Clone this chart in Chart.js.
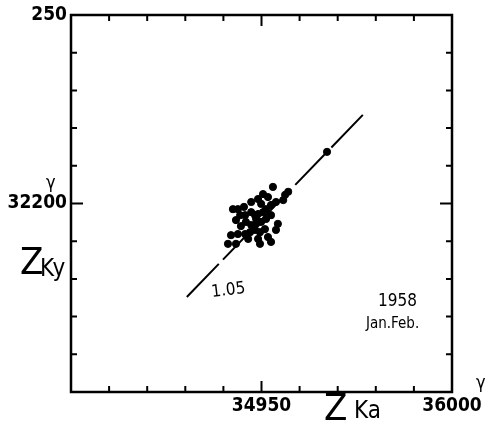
<!DOCTYPE html>
<html>
<head>
<meta charset="utf-8">
<script src="https://cdn.jsdelivr.net/npm/chart.js@4/dist/chart.umd.min.js"></script>
<style>
  html, body { margin: 0; padding: 0; background: #fff; }
  #wrap { width: 490px; height: 425px; }
</style>
</head>
<body>
<div id="wrap"><canvas id="scatterChart" width="490" height="425"></canvas></div>
<script>
// Z Ka (x) vs Z Ky (y), gamma, 1958 Jan.Feb.
const zKa = [34953.0, 34951.7, 34950.4, 34949.1, 34947.3, 34943.8, 34942.5, 34944.4, 34945.7, 34947.3,
             34949.1, 34951.2, 34952.5, 34953.8, 34956.2, 34957.0, 34945.9, 34947.3, 34948.6, 34949.9,
             34951.2, 34952.5, 34948.3, 34949.6, 34950.9, 34947.0, 34945.7, 34943.8, 34942.0, 34941.2,
             34943.3, 34946.5, 34949.1, 34949.6, 34952.5, 34951.7, 34953.8, 34954.3, 34948.3, 34949.9,
             34945.4, 34948.6, 34950.4, 34955.7, 34967.2, 34944.6, 34943.3];
const zKy = [32204.4, 32201.7, 32202.5, 32201.2, 32200.4, 32198.5, 32198.5, 32196.9, 32196.9, 32197.7,
             32197.2, 32198.5, 32199.6, 32200.4, 32202.3, 32203.1, 32195.1, 32194.3, 32194.6, 32195.1,
             32195.9, 32196.9, 32193.0, 32192.4, 32193.2, 32192.4, 32191.9, 32191.9, 32191.6, 32189.3,
             32189.3, 32190.6, 32190.6, 32189.3, 32189.8, 32191.1, 32193.0, 32194.6, 32196.9, 32199.9,
             32199.1, 32195.9, 32197.7, 32200.9, 32213.7, 32194.0, 32195.6];

// fitted line, slope 1.05
const lineX = [34930.4, 34976.6];
const lineY = [32175.2, 32223.5];

const xTicks = [34900, 34910, 34920, 34930, 34940, 34950, 34960, 34970, 34980, 34990, 35000];
const yTicks = [32150, 32160, 32170, 32180, 32190, 32200, 32210, 32220, 32230, 32240, 32250];
const xLabels = { 34950: '34950', 35000: '36000' };
const yLabels = { 32200: '32200', 32250: '250' };

const handFont = '"DejaVu Sans Condensed", "DejaVu Sans", sans-serif';

const framePlugin = {
  id: 'frame',
  afterDraw(chart) {
    const c = chart.ctx, a = chart.chartArea;
    const xs = chart.scales.x, ys = chart.scales.y;
    c.save();
    c.strokeStyle = '#000';
    c.lineWidth = 2.5;
    c.strokeRect(a.left, a.top, a.right - a.left, a.bottom - a.top);
    c.lineWidth = 2;
    c.beginPath();
    xTicks.forEach(v => {
      const p = xs.getPixelForValue(v);
      const len = v === 34950 ? 11 : 6;
      c.moveTo(p, a.bottom); c.lineTo(p, a.bottom - len);
      c.moveTo(p, a.top); c.lineTo(p, a.top + len);
    });
    yTicks.forEach(v => {
      const p = ys.getPixelForValue(v);
      const len = v === 32200 ? 12 : 6;
      c.moveTo(a.left, p); c.lineTo(a.left + len, p);
      c.moveTo(a.right, p); c.lineTo(a.right - len, p);
    });
    c.stroke();

    c.fillStyle = '#000';
    c.textBaseline = 'alphabetic';
    c.textAlign = 'left';
    c.font = '18px ' + handFont;
    c.fillText('\u03b3', 46, 188);
    c.fillText('\u03b3', 476, 388);
    c.font = '38px ' + handFont;
    c.fillText('Z', 20, 274);
    c.fillText('Z', 324, 420);
    c.font = '24px ' + handFont;
    c.fillText('Ky', 40, 276);
    c.fillText('Ka', 354, 418);
    c.font = '17px ' + handFont;
    c.fillText('1958', 378, 306);
    c.font = '15px ' + handFont;
    c.fillText('Jan.Feb.', 366, 328);
    c.save();
    c.translate(212, 297);
    c.rotate(-0.12);
    c.font = '17px ' + handFont;
    c.fillText('1.05', 0, 0);
    c.restore();
    c.restore();
  }
};

const ctx = document.getElementById('scatterChart').getContext('2d');
const scatterChart = new Chart(ctx, {
  type: 'scatter',
  data: {
    datasets: [{
      label: '1958 Jan.Feb.',
      data: zKa.map((x, i) => ({ x: x, y: zKy[i] })),
      backgroundColor: '#000',
      borderColor: '#000',
      pointRadius: 3.6,
      pointHoverRadius: 3.6
    }, {
      label: 'slope 1.05',
      type: 'line',
      data: lineX.map((x, i) => ({ x: x, y: lineY[i] })),
      borderColor: '#000',
      borderWidth: 2,
      borderDash: [46, 6],
      pointRadius: 0,
      fill: false
    }]
  },
  options: {
    responsive: false,
    animation: false,
    layout: { padding: { top: 15, right: 38, left: 0, bottom: 0 } },
    scales: {
      x: {
        type: 'linear',
        min: 34900,
        max: 35000,
        afterFit: s => { s.height = 33; },
        afterBuildTicks: s => { s.ticks = xTicks.map(v => ({ value: v })); },
        grid: { display: false },
        border: { display: false },
        ticks: {
          autoSkip: false,
          maxRotation: 0,
          padding: -5,
          color: '#000',
          font: { family: handFont, size: 19, weight: 'bold' },
          callback: v => xLabels[v] || ''
        }
      },
      y: {
        type: 'linear',
        min: 32150,
        max: 32250,
        afterFit: s => { s.width = 71; },
        afterBuildTicks: s => { s.ticks = yTicks.map(v => ({ value: v })); },
        grid: { display: false },
        border: { display: false },
        ticks: {
          autoSkip: false,
          padding: -4,
          color: '#000',
          font: { family: handFont, size: 19, weight: 'bold' },
          callback: v => yLabels[v] || ''
        }
      }
    },
    plugins: {
      legend: { display: false },
      tooltip: { enabled: false },
      title: { display: false }
    }
  },
  plugins: [framePlugin]
});
</script>
</body>
</html>
